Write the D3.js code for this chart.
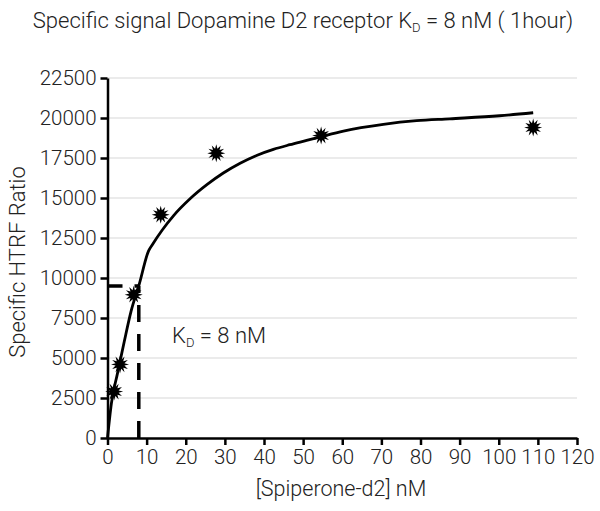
<!DOCTYPE html>
<html lang="en">
<head>
    <meta charset="UTF-8">
    <title>Dopamine D2 saturation</title>
    <script src="https://cdn.jsdelivr.net/npm/d3@7/dist/d3.min.js"></script>
    <style>
        body { margin: 0; background: #fff; }
        text { font-family: Roboto, "Open Sans", sans-serif; font-weight: 300; fill: #222; }
        .grid line { stroke: #e4e4e4; stroke-width: 1.5; }
        .axis path, .axis line { stroke: #000; stroke-width: 2.5; }
        .axis text { font-size: 20.5px; fill: #222; font-family: Roboto, sans-serif; font-weight: 300; }
    </style>
</head>
<body>
    <svg width="600" height="511"></svg>
    <script>
        // measured points (concentration nM, specific HTRF ratio)
        const conc = [1.7, 3.2, 6.7, 13.6, 27.8, 54.6, 108.8];
        const signal = [2900, 4600, 8950, 13950, 17800, 18900, 19400];

        // fitted curve
        const fitX = [0, 1.0, 2.55, 4.3, 6.0, 8.1, 10.5, 11.5, 14, 16.9, 21.1, 25.4, 29.6, 33.9, 38.1, 42.4, 46.6, 50.9, 55.2, 60.3, 70.5, 79, 87.5, 100.2, 108.8];
        const fitY = [0, 2170, 4040, 6050, 7900, 9600, 11700, 12100, 13000, 13900, 14950, 15830, 16560, 17170, 17660, 18040, 18330, 18600, 18875, 19180, 19600, 19830, 19950, 20140, 20330];

        const xTicks = d3.range(0, 121, 10);
        const yTicks = d3.range(0, 22501, 2500);
        const kd = 8;
        const kdSignal = 9500;

        const svg = d3.select("svg");

        const x = d3.scaleLinear().domain([0, 120]).range([107.5, 577]);
        const y = d3.scaleLinear().domain([0, 22500]).range([438, 78]);

        // gridlines
        svg.append("g").attr("class", "grid")
            .selectAll("line")
            .data(yTicks.filter(d => d > 0))
            .join("line")
            .attr("x1", x(0)).attr("x2", x(120))
            .attr("y1", d => y(d)).attr("y2", d => y(d));

        // axes
        svg.append("g").attr("class", "axis")
            .attr("transform", `translate(0,${y(0)})`)
            .call(d3.axisBottom(x).tickValues(xTicks).tickFormat(d3.format("d")).tickSize(7).tickPadding(3).tickSizeOuter(0))
            .call(g => g.selectAll("text").attr("dy", "0.8em"));

        svg.append("g").attr("class", "axis")
            .attr("transform", `translate(${x(0)},0)`)
            .call(d3.axisLeft(y).tickValues(yTicks).tickFormat(d3.format("d")).tickSize(7).tickPadding(4).tickSizeOuter(0));

        // Kd guide lines
        svg.append("line")
            .attr("x1", x(0)).attr("x2", x(kd))
            .attr("y1", y(kdSignal)).attr("y2", y(kdSignal))
            .attr("stroke", "#000").attr("stroke-width", 3.5)
            .attr("stroke-dasharray", "15,12");
        svg.append("line")
            .attr("x1", x(kd)).attr("x2", x(kd))
            .attr("y1", y(0)).attr("y2", y(kdSignal))
            .attr("stroke", "#000").attr("stroke-width", 3.5)
            .attr("stroke-dasharray", "17,12");

        // fitted curve
        const fit = fitX.map((d, i) => [d, fitY[i]]);
        svg.append("path")
            .datum(fit)
            .attr("fill", "none")
            .attr("stroke", "#000")
            .attr("stroke-width", 2.8)
            .attr("d", d3.line().x(d => x(d[0])).y(d => y(d[1])).curve(d3.curveMonotoneX));

        // star markers
        const star = d3.symbol().type({
            draw(ctx, size) {
                const n = 12, ro = 9, ri = 4.6;
                for (let i = 0; i < n * 2; i++) {
                    const r = i % 2 ? ri : ro;
                    const a = Math.PI * i / n - Math.PI / 2;
                    i ? ctx.lineTo(r * Math.cos(a), r * Math.sin(a)) : ctx.moveTo(r * Math.cos(a), r * Math.sin(a));
                }
                ctx.closePath();
            }
        });
        svg.append("g")
            .selectAll("path")
            .data(conc)
            .join("path")
            .attr("transform", (d, i) => `translate(${x(d)},${y(signal[i])})`)
            .attr("d", star)
            .attr("fill", "#000");

        // annotation
        const kdText = svg.append("text")
            .attr("x", 172).attr("y", 343)
            .attr("font-size", 22);
        kdText.append("tspan").text("K");
        kdText.append("tspan").attr("font-size", 13).attr("dy", 4).text("D");
        kdText.append("tspan").attr("dy", -4).text(" = 8 nM");

        // title
        const title = svg.append("text")
            .attr("x", 303).attr("y", 28)
            .attr("text-anchor", "middle")
            .attr("font-size", 22);
        title.append("tspan").text("Specific signal Dopamine D2 receptor K");
        title.append("tspan").attr("font-size", 13).attr("dy", 4).text("D");
        title.append("tspan").attr("dy", -4).text(" = 8 nM ( 1hour)");

        // axis titles
        svg.append("text")
            .attr("x", 341).attr("y", 496)
            .attr("text-anchor", "middle")
            .attr("font-size", 21.5)
            .text("[Spiperone-d2] nM");

        svg.append("text")
            .attr("transform", "translate(25,262) rotate(-90)")
            .attr("text-anchor", "middle")
            .attr("font-size", 22)
            .text("Specific HTRF Ratio");
    </script>
</body>
</html>
